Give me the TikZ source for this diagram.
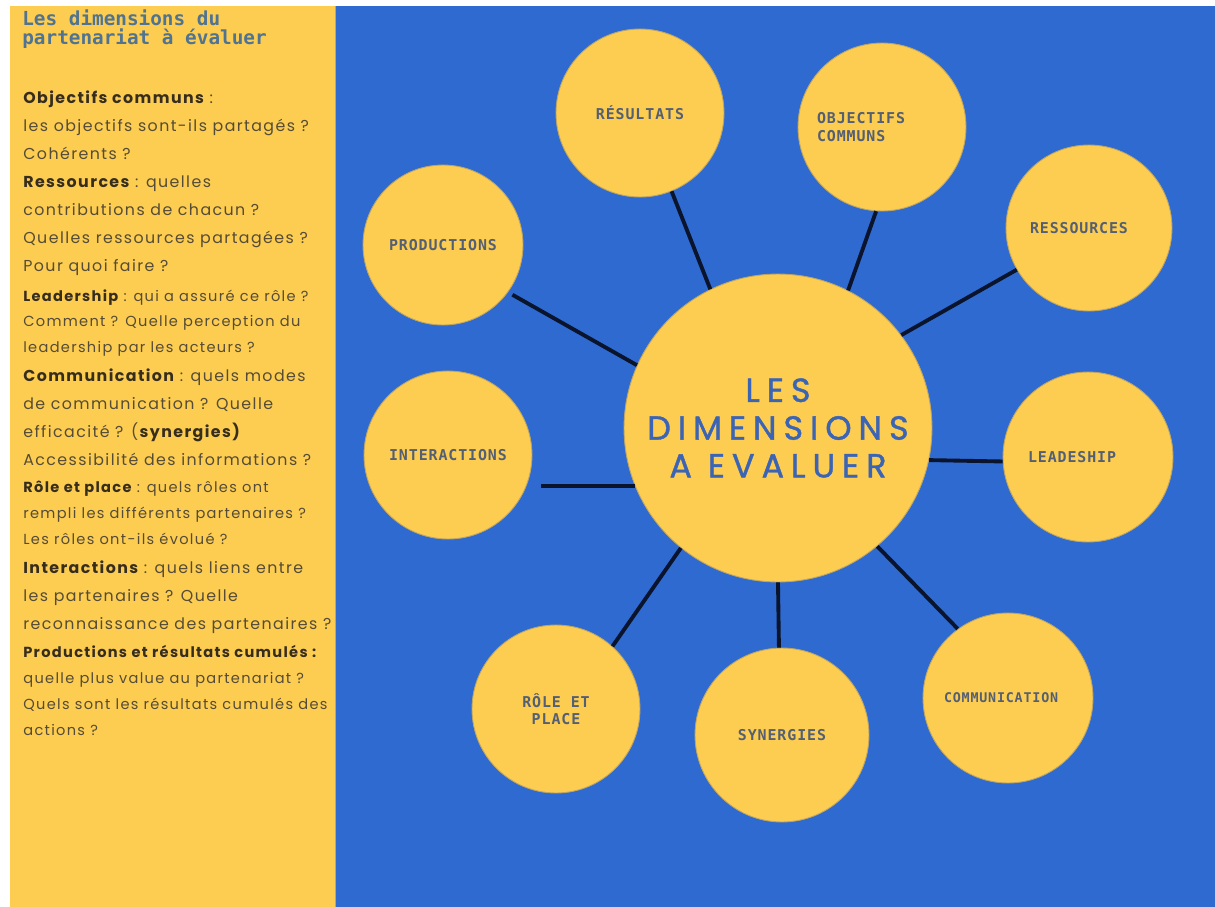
\documentclass[tikz,border=0pt]{standalone}
\usepackage{fontspec}
\setmainfont[LetterSpace=9]{Poppins}
\newfontfamily\titlefont{DejaVu Sans Mono}
\newfontfamily\labelfont[LetterSpace=6]{DejaVu Sans Mono}
\newfontfamily\hubfont[LetterSpace=21, FakeBold=1.2]{Poppins}
\usepackage{xcolor}
\usetikzlibrary{positioning}
\definecolor{panelyellow}{RGB}{252, 205, 80}
\definecolor{panelblue}{RGB}{46, 106, 208}
\definecolor{hubtext}{RGB}{60, 100, 180}
\definecolor{bubbletext}{RGB}{85, 95, 115}
\definecolor{bubbleedge}{RGB}{190, 165, 100}
\definecolor{linkdark}{RGB}{10, 20, 45}
\definecolor{titleblue}{RGB}{80, 115, 145}
\definecolor{notetext}{RGB}{85, 75, 55}
\definecolor{notedark}{RGB}{55, 45, 30}
\newcommand{\kw}[1]{\textbf{\color{notedark}#1}}

\begin{document}
\begin{tikzpicture}[
    x=0.02cm, y=-0.02cm,
    bubble/.style={circle, draw=bubbleedge, line width=0.5pt, fill=panelyellow,
        text=bubbletext, font=\labelfont\bfseries\fontsize{8.5}{10}\selectfont,
        inner sep=1pt},
    hub/.style={circle, draw=bubbleedge, line width=0.5pt, fill=panelyellow,
        text=hubtext, font=\hubfont\fontsize{19}{21.5}\selectfont,
        align=center, minimum size=6.16cm},
    link/.style={line width=2.2pt, draw=linkdark},
    notes/.style={anchor=north west, inner sep=0pt, align=left, text=notetext,
        font=\fontsize{9}{16.1}\selectfont},
    smallnotes/.style={notes, font=\fontsize{8.3}{14.7}\selectfont}
]

% page and panels
\useasboundingbox (0,0) rectangle (1215,907);
\fill[white] (0,0) rectangle (1215,907);
\fill[panelyellow] (10,6) rectangle (335,907);
\fill[panelblue] (336,6) rectangle (1215,907);
\draw[gray!70, line width=1pt] (335.5,6) -- (335.5,907);

% left panel text
\node[anchor=north west, inner sep=0pt, align=left, text=titleblue,
    font=\titlefont\bfseries\fontsize{11}{10.8}\selectfont] (title) at (22,9)
    {Les dimensions du\\partenariat à évaluer};

\node[notes] (nobj) at (23,90) {\kw{Objectifs communs} :\\
    les objectifs sont-ils partagés ?\\
    Cohérents ?};
\node[notes] (nres) at (23,175) {\kw{Ressources} : quelles\\
    contributions de chacun ?\\
    Quelles ressources partagées ?\\
    Pour quoi faire ?};
\node[smallnotes] (nlead) at (23,289) {\kw{Leadership} : qui a assuré ce rôle ?\\
    Comment ? Quelle perception du\\
    leadership par les acteurs ?};
\node[notes] (ncom) at (23,368) {\kw{Communication} : quels modes\\
    de communication ? Quelle\\
    efficacité ? (\kw{synergies)}\\
    Accessibilité des informations ?};
\node[smallnotes] (nrole) at (23,481) {\kw{Rôle et place} : quels rôles ont\\
    rempli les différents partenaires ?\\
    Les rôles ont-ils évolué ?};
\node[notes] (nint) at (23,560) {\kw{Interactions} : quels liens entre\\
    les partenaires ? Quelle\\
    reconnaissance des partenaires ?};
\node[smallnotes] (nprod) at (23,645) {\kw{Productions et résultats cumulés :}\\
    quelle plus value au partenariat ?\\
    Quels sont les résultats cumulés des\\
    actions ?};

% hub and bubbles
\node[hub] (hub) at (778,428) {LES\\DIMENSIONS\\A EVALUER};

\node[bubble, minimum size=3.36cm] (res) at (640,113) {RÉSULTATS};
\node[bubble, minimum size=3.36cm, text width=2.6cm, align=left] (obj) at (882,127) {OBJECTIFS\\COMMUNS};
\node[bubble, minimum size=3.32cm, text width=2.36cm, align=left] (ress) at (1089,228) {RESSOURCES};
\node[bubble, minimum size=3.4cm, text width=2.4cm, align=left] (lead) at (1088,457) {LEADESHIP};
\node[bubble, minimum size=3.4cm, text width=2.56cm, align=left,
    font=\labelfont\bfseries\fontsize{7.6}{9}\selectfont] (com) at (1008,698) {COMMUNICATION};
\node[bubble, minimum size=3.48cm] (syn) at (782,735) {SYNERGIES};
\node[bubble, minimum size=3.36cm, align=center] (role) at (556,709) {RÔLE ET\\PLACE};
\node[bubble, minimum size=3.36cm] (inter) at (448,455) {INTERACTIONS};
\node[bubble, minimum size=3.2cm] (prod) at (443,245) {PRODUCTIONS};

% spokes
\draw[link] (hub.116) -- (res.-68);
\draw[link] (hub.63) -- (obj.-94);
\draw[link] (hub.37) -- (ress.210);
\draw[link] (hub.-12) -- (lead.183);
\draw[link] (hub.-50) -- (com.126);
\draw[link] (hub.-90) -- (syn.92);
\draw[link] (hub.231) -- (role.48);
\draw[link, shorten >=0.18cm] (hub.202) -- (hub.202 -| inter.east);
\draw[link, shorten >=0.1cm] (hub.156) -- (prod.-36);

\end{tikzpicture}
\end{document}
